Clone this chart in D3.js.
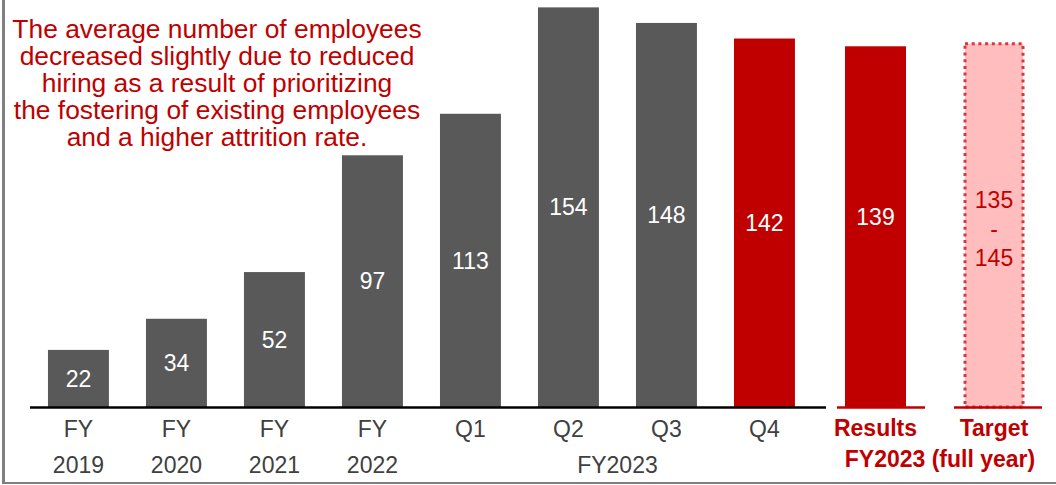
<!DOCTYPE html>
<html>
<head>
<meta charset="utf-8">
<script src="https://cdn.jsdelivr.net/npm/d3@7"></script>
<style>
  html, body { margin: 0; padding: 0; background: #fff; }
  svg { display: block; font-family: "Liberation Sans", Arial, sans-serif; }
</style>
</head>
<body>
<svg id="chart" width="1056" height="485"></svg>
<script>
// Average number of employees by period
const categories = ["FY2019", "FY2020", "FY2021", "FY2022", "Q1", "Q2", "Q3", "Q4"];
const values = [22, 34, 52, 97, 113, 154, 148, 142];
const tickTop = ["FY", "FY", "FY", "FY", "Q1", "Q2", "Q3", "Q4"];
const tickBottom = ["2019", "2020", "2021", "2022"];
const quarterGroupLabel = "FY2023";

const fullYearCategories = ["Results", "Target"];
const resultValue = 139;
const targetRange = [135, 145];
const fullYearGroupLabel = "FY2023 (full year)";

const note = [
  "The average number of employees",
  "decreased slightly due to reduced",
  "hiring as a result of prioritizing",
  "the fostering of existing employees",
  "and a higher attrition rate."
];

const GRAY = "#595959", RED = "#c00000", PINK = "#ffbdbd", DOT = "#d9363e", TXT = "#404040";
const FS = 23;

const svg = d3.select("#chart");
const base = 407;

const y = d3.scaleLinear().domain([0, 160]).range([base, base - 2.595 * 160]);

const x = d3.scaleBand().domain(categories).range([16.6, 826.3]).paddingInner(0.378).paddingOuter(0.32);
const xf = d3.scalePoint().domain(fullYearCategories).range([875.5, 994]);
const fw = 61;

// frame lines
svg.append("rect").attr("x", 2).attr("y", 0).attr("width", 3).attr("height", 484).attr("fill", "#808080");
svg.append("rect").attr("x", 2).attr("y", 482).attr("width", 1054).attr("height", 2).attr("fill", "#808080");

// bars
const data = categories.map((c, i) => ({ c, v: values[i] }));
svg.selectAll("rect.bar").data(data).enter().append("rect")
  .attr("class", "bar")
  .attr("x", d => x(d.c))
  .attr("y", d => y(d.v))
  .attr("width", x.bandwidth())
  .attr("height", d => y(0) - y(d.v))
  .attr("fill", (d, i) => i === categories.length - 1 ? RED : GRAY);

svg.selectAll("text.val").data(data).enter().append("text")
  .attr("x", d => x(d.c) + x.bandwidth() / 2)
  .attr("y", d => (y(d.v) + y(0)) / 2)
  .attr("dy", "0.36em")
  .attr("text-anchor", "middle")
  .attr("font-size", FS)
  .attr("fill", "#fff")
  .text(d => d.v);

// baseline
svg.append("line").attr("x1", 30).attr("x2", 826).attr("y1", base + 0.5).attr("y2", base + 0.5)
  .attr("stroke", "#000").attr("stroke-width", 2.5);

// results bar
svg.append("rect")
  .attr("x", xf("Results") - fw / 2).attr("y", y(resultValue))
  .attr("width", fw).attr("height", y(0) - y(resultValue)).attr("fill", RED);
svg.append("text")
  .attr("x", xf("Results")).attr("y", (y(resultValue) + y(0)) / 2 - 10).attr("dy", "0.36em")
  .attr("text-anchor", "middle").attr("font-size", FS).attr("fill", "#fff").text(resultValue);

// target bar (range midpoint)
const tMid = (targetRange[0] + targetRange[1]) / 2;
svg.append("rect")
  .attr("x", xf("Target") - 29).attr("y", y(tMid))
  .attr("width", 58).attr("height", y(0) - y(tMid))
  .attr("fill", PINK).attr("stroke", DOT).attr("stroke-width", 3).attr("stroke-dasharray", "3,3.7");
const tText = [String(targetRange[0]), "-", String(targetRange[1])];
svg.selectAll("text.tgt").data(tText).enter().append("text")
  .attr("x", xf("Target"))
  .attr("y", (d, i) => 200 + i * 29)
  .attr("dy", "0.36em")
  .attr("text-anchor", "middle").attr("font-size", FS).attr("fill", RED)
  .text(d => d);

// full-year baselines
svg.append("line").attr("x1", 837).attr("x2", 925).attr("y1", base + 0.5).attr("y2", base + 0.5)
  .attr("stroke", RED).attr("stroke-width", 2.5);
svg.append("line").attr("x1", 954).attr("x2", 1042).attr("y1", base + 0.5).attr("y2", base + 0.5)
  .attr("stroke", RED).attr("stroke-width", 2.5);

// category labels
svg.selectAll("text.t1").data(categories).enter().append("text")
  .attr("x", d => x(d) + x.bandwidth() / 2).attr("y", 437)
  .attr("text-anchor", "middle").attr("font-size", FS).attr("fill", TXT)
  .text((d, i) => tickTop[i]);
svg.selectAll("text.t2").data(tickBottom).enter().append("text")
  .attr("x", (d, i) => x(categories[i]) + x.bandwidth() / 2).attr("y", 473)
  .attr("text-anchor", "middle").attr("font-size", FS).attr("fill", TXT)
  .text(d => d);
const qMid = (x("Q1") + x("Q4") + x.bandwidth()) / 2;
svg.append("text").attr("x", qMid).attr("y", 473)
  .attr("text-anchor", "middle").attr("font-size", FS).attr("fill", TXT).text(quarterGroupLabel);

svg.selectAll("text.fy").data(fullYearCategories).enter().append("text")
  .attr("x", d => xf(d)).attr("y", 436)
  .attr("text-anchor", "middle").attr("font-size", FS).attr("font-weight", "bold").attr("fill", RED)
  .text(d => d);
svg.append("text").attr("x", 940).attr("y", 467)
  .attr("text-anchor", "middle").attr("font-size", FS).attr("font-weight", "bold").attr("fill", RED)
  .text(fullYearGroupLabel);

// annotation, set with tight line spacing
svg.selectAll("text.note").data(note).enter().append("text")
  .attr("x", 217).attr("y", (d, i) => 38 + i * 27)
  .attr("text-anchor", "middle").attr("font-size", 26.4).attr("fill", RED)
  .text(d => d);
</script>
</body>
</html>
